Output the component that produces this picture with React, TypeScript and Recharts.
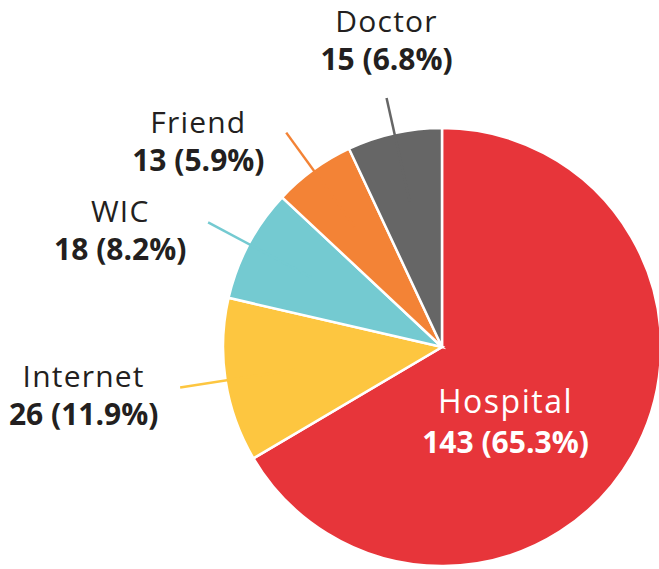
import React from 'react';
import { PieChart, Pie, Cell } from 'recharts';

// ---- data ----
const categories: string[] = ['Hospital', 'Internet', 'WIC', 'Friend', 'Doctor'];
const counts: number[] = [143, 26, 18, 13, 15];
const TOTAL_RESPONSES = 219; // percentages in the picture are of 219
const sliceColors: string[] = ['#E7353A', '#FDC640', '#74CAD1', '#F38336', '#666666'];

const chartData = categories.map((name, i) => ({ name, value: counts[i] }));

const FONT = '"Open Sans", "Noto Sans", sans-serif';
const TEXT_DARK = '#231F20';
const RADIAN = Math.PI / 180;

const boldWidths: Record<string, number> = {
  ' ': 0.26, '(': 0.339, ')': 0.339, '.': 0.286, '%': 0.88,
};
function boldTextWidth(s: string, size: number): number {
  let w = 0;
  for (const ch of s) w += (boldWidths[ch] ?? 0.572) * size;
  return w;
}

function pctText(v: number): string {
  return ((v / TOTAL_RESPONSES) * 100).toFixed(1) + '%';
}

function renderLabel(props: any) {
  const { cx, cy, midAngle, outerRadius, index, percent } = props;
  const R = outerRadius;
  const cos = Math.cos(-midAngle * RADIAN);
  const sin = Math.sin(-midAngle * RADIAN);
  const name = categories[index];
  const valueText = `${counts[index]} (${pctText(counts[index])})`;
  const color = sliceColors[index];

  if (percent > 0.3) {
    // big slice: label inside, white
    const x = cx + 0.334 * R * cos;
    const y = cy + 0.79 * R * sin;
    return (
      <g key={`lab-${index}`}>
        <text x={x} y={y - 20} textAnchor="middle" fill="#fff" fontFamily={FONT} fontSize={32} letterSpacing={1.5}>
          {name}
        </text>
        <text x={x} y={y + 20} textAnchor="middle" fill="#fff" fontFamily={FONT} fontSize={30} fontWeight={700}>
          {valueText}
        </text>
      </g>
    );
  }

  const up = -sin; // upward component
  const rOut = up > 0.9 ? R + 36 : R + 46;
  const rIn = R * 0.68;
  const sx = cx + rIn * cos;
  const sy = cy + rIn * sin;
  const ex = cx + rOut * cos;
  const ey = cy + rOut * sin;

  let tx: number;
  let nameY: number;
  let valY: number;
  if (up > 0.9) {
    tx = ex;
    valY = ey - 28;
    nameY = ey - 66;
  } else {
    const w = boldTextWidth(valueText, 30);
    tx = cos < 0 ? ex - 22 - w / 2 : ex + 22 + w / 2;
    nameY = ey;
    valY = ey + 38;
  }

  return (
    <g key={`lab-${index}`}>
      <line x1={sx} y1={sy} x2={ex} y2={ey} stroke={color} strokeWidth={2.5} />
      <text x={tx} y={nameY} textAnchor="middle" fill={TEXT_DARK} fontFamily={FONT} fontSize={30} letterSpacing={1.2}>
        {name}
      </text>
      <text x={tx} y={valY} textAnchor="middle" fill={TEXT_DARK} fontFamily={FONT} fontSize={30} fontWeight={700}>
        {valueText}
      </text>
    </g>
  );
}

export default function App() {
  return (
    <div style={{ position: 'absolute', left: 0, top: 0, width: 659, height: 569, background: '#fff' }}>
      <PieChart width={659} height={569} margin={{ top: 0, right: 0, bottom: 0, left: 0 }}>
        <Pie
          data={chartData}
          dataKey="value"
          nameKey="name"
          cx={442}
          cy={347}
          innerRadius={0}
          outerRadius={219}
          startAngle={90}
          endAngle={-270}
          stroke="#ffffff"
          strokeWidth={2.5}
          labelLine={false}
          label={renderLabel}
          isAnimationActive={false}
        >
          {chartData.map((d, i) => (
            <Cell key={d.name} fill={sliceColors[i]} />
          ))}
        </Pie>
      </PieChart>
    </div>
  );
}
